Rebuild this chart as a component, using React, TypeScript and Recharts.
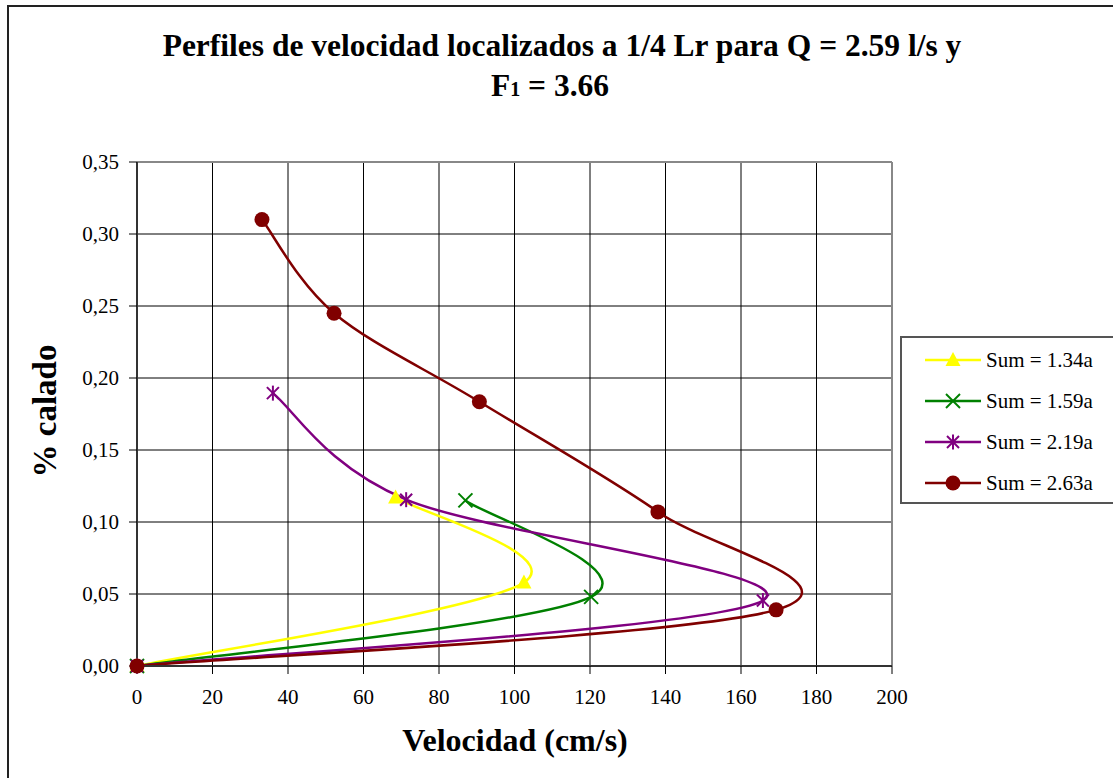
import React from 'react'
import { LineChart, Line, XAxis, YAxis, CartesianGrid, ReferenceLine } from 'recharts'

// velocity (cm/s) vs fraction of depth, one list per series (bottom point first)
const sum134 = [
  { x: 0, y: 0 },
  { x: 102.5, y: 0.058 },
  { x: 68.5, y: 0.117 },
]
const sum159 = [
  { x: 0, y: 0 },
  { x: 120.3, y: 0.048 },
  { x: 87, y: 0.115 },
]
const sum219 = [
  { x: 0, y: 0 },
  { x: 165.8, y: 0.0455 },
  { x: 71.3, y: 0.1155 },
  { x: 36, y: 0.1895 },
]
const sum263 = [
  { x: 0, y: 0 },
  { x: 169.3, y: 0.039 },
  { x: 138, y: 0.107 },
  { x: 90.7, y: 0.1835 },
  { x: 52.2, y: 0.245 },
  { x: 33.1, y: 0.31 },
]

const xTicks = [0, 20, 40, 60, 80, 100, 120, 140, 160, 180, 200]
const yTicks = [0, 0.05, 0.1, 0.15, 0.2, 0.25, 0.3, 0.35]

const FONT = '"Liberation Serif", "Times New Roman", serif'

type Marker = 'triangle' | 'x' | 'star' | 'circle'

const series: { name: string; data: { x: number; y: number }[]; color: string; marker: Marker }[] = [
  { name: 'Sum = 1.34a', data: sum134, color: '#FFFF00', marker: 'triangle' },
  { name: 'Sum = 1.59a', data: sum159, color: '#008000', marker: 'x' },
  { name: 'Sum = 2.19a', data: sum219, color: '#800080', marker: 'star' },
  { name: 'Sum = 2.63a', data: sum263, color: '#800000', marker: 'circle' },
]

// Excel style smoothing: bezier through the points, tangents from neighbours
function excelSmooth(context: any) {
  let pts: number[][] = []
  return {
    areaStart() {},
    areaEnd() {},
    lineStart() { pts = [] },
    point(x: number, y: number) { pts.push([+x, +y]) },
    lineEnd() {
      const n = pts.length
      if (!n) return
      context.moveTo(pts[0][0], pts[0][1])
      for (let i = 0; i < n - 1; i++) {
        const p0 = pts[Math.max(i - 1, 0)]
        const p1 = pts[i]
        const p2 = pts[i + 1]
        const p3 = pts[Math.min(i + 2, n - 1)]
        context.bezierCurveTo(
          p1[0] + (p2[0] - p0[0]) / 6, p1[1] + (p2[1] - p0[1]) / 6,
          p2[0] - (p3[0] - p1[0]) / 6, p2[1] - (p3[1] - p1[1]) / 6,
          p2[0], p2[1]
        )
      }
    },
  }
}

function MarkerShape({ kind, cx, cy, color }: { kind: Marker; cx: number; cy: number; color: string }) {
  switch (kind) {
    case 'triangle':
      return <polygon points={`${cx},${cy - 8} ${cx + 7.5},${cy + 6} ${cx - 7.5},${cy + 6}`} fill={color} />
    case 'x':
      return (
        <g stroke={color} strokeWidth={2}>
          <line x1={cx - 7} y1={cy - 7} x2={cx + 7} y2={cy + 7} />
          <line x1={cx - 7} y1={cy + 7} x2={cx + 7} y2={cy - 7} />
        </g>
      )
    case 'star':
      return (
        <g stroke={color} strokeWidth={2}>
          <line x1={cx - 6} y1={cy - 6} x2={cx + 6} y2={cy + 6} />
          <line x1={cx - 6} y1={cy + 6} x2={cx + 6} y2={cy - 6} />
          <line x1={cx} y1={cy - 7.5} x2={cx} y2={cy + 7.5} />
        </g>
      )
    default:
      return <circle cx={cx} cy={cy} r={7.5} fill={color} />
  }
}

const fmt = (v: number) => v.toFixed(2).replace('.', ',')

const tickStyle = { fill: '#000', fontSize: 21, fontFamily: FONT, style: { fontFamily: FONT } }

export default function App() {
  return (
    <div style={{ position: 'absolute', left: 0, top: 0, width: 1113, height: 778, overflow: 'hidden', background: '#fff', fontFamily: FONT }}>
      <div style={{ position: 'absolute', left: 7, top: 5, width: 1120, height: 790, border: '2px solid #222', boxSizing: 'border-box' }} />

      <div style={{ position: 'absolute', left: 0, top: 26, width: 1124, textAlign: 'center', fontSize: 31.5, fontWeight: 'bold', lineHeight: '40px' }}>
        Perfiles de velocidad localizados a 1/4 Lr para Q = 2.59 l/s y
        <br />
        <span style={{ position: 'relative', left: -12 }}>F<span style={{ fontSize: 20 }}>1</span> = 3.66</span>
      </div>

      <div style={{ position: 'absolute', left: 45, top: 411, transform: 'translate(-50%, -50%) rotate(-90deg)', fontSize: 33, fontWeight: 'bold', whiteSpace: 'nowrap' }}>
        % calado
      </div>

      <div style={{ position: 'absolute', left: 0, top: 722, width: 1030, textAlign: 'center', fontSize: 32, fontWeight: 'bold' }}>
        Velocidad (cm/s)
      </div>

      <div style={{ position: 'absolute', left: 0, top: 0, fontFamily: FONT }}>
        <LineChart width={1113} height={778} margin={{ top: 162, right: 221, bottom: 72, left: 67 }} style={{ fontFamily: FONT }}>
          <CartesianGrid stroke="#000" strokeWidth={1} horizontalValues={yTicks} verticalValues={xTicks} />
          <XAxis
            type="number"
            dataKey="x"
            domain={[0, 200]}
            ticks={xTicks}
            height={40}
            tickSize={8}
            tickMargin={15}
            axisLine={{ stroke: '#333', strokeWidth: 2 }}
            tickLine={{ stroke: '#000' }}
            tick={tickStyle}
          />
          <YAxis
            type="number"
            dataKey="y"
            domain={[0, 0.35]}
            ticks={yTicks}
            width={70}
            tickSize={8}
            tickMargin={10}
            tickFormatter={fmt}
            axisLine={{ stroke: '#333', strokeWidth: 2 }}
            tickLine={{ stroke: '#000' }}
            tick={tickStyle}
          />
          <ReferenceLine y={0.35} stroke="#888" strokeWidth={2} />
          <ReferenceLine x={200} stroke="#888" strokeWidth={2} />
          {series.map((s) => (
            <Line
              key={s.name}
              data={s.data}
              dataKey="y"
              name={s.name}
              type={excelSmooth as any}
              stroke={s.color}
              strokeWidth={2.5}
              isAnimationActive={false}
              dot={(p: any) => <MarkerShape key={`${s.name}-${p.index}`} kind={s.marker} cx={p.cx} cy={p.cy} color={s.color} />}
              activeDot={false}
            />
          ))}
        </LineChart>
      </div>

      <div style={{ position: 'absolute', left: 900, top: 336, width: 230, height: 168, border: '2px solid #555', boxSizing: 'border-box', background: '#fff' }}>
        {series.map((s, i) => (
          <div key={s.name} style={{ position: 'absolute', left: 0, top: 8 + i * 41, height: 28, display: 'flex', alignItems: 'center' }}>
            <svg width={84} height={28}>
              <line x1={23} y1={14} x2={79} y2={14} stroke={s.color} strokeWidth={2.5} />
              <MarkerShape kind={s.marker} cx={51} cy={14} color={s.color} />
            </svg>
            <span style={{ fontSize: 21, whiteSpace: 'nowrap' }}>{s.name}</span>
          </div>
        ))}
      </div>
    </div>
  )
}
